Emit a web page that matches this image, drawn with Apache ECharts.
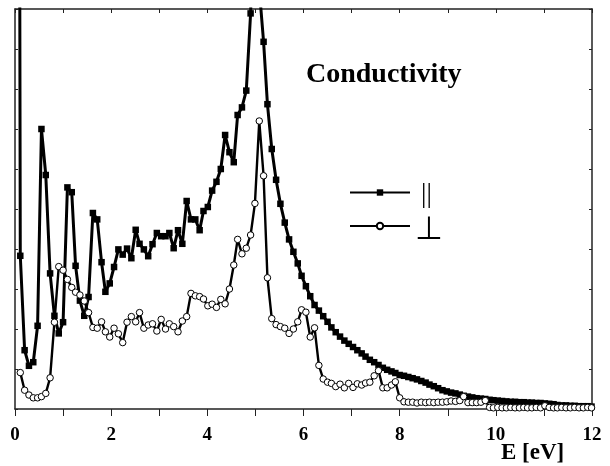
<!DOCTYPE html>
<html>
<head>
<meta charset="utf-8">
<script src="https://cdn.jsdelivr.net/npm/echarts@6/dist/echarts.min.js"></script>
<style>html,body{margin:0;padding:0;background:#fff;}#c{width:610px;height:466px;}</style>
</head>
<body>
<div id="c"></div>
<script>
const energy = [0.02,
0.11,0.20,0.29,0.38,0.47,0.55,0.64,0.73,0.82,0.91,
1.00,1.09,1.18,1.26,1.35,1.44,1.53,1.62,1.71,1.80,
1.88,1.97,2.06,2.15,2.24,2.33,2.42,2.51,2.59,2.68,
2.77,2.86,2.95,3.04,3.13,3.21,3.30,3.39,3.48,3.57,
3.66,3.75,3.84,3.92,4.01,4.10,4.19,4.28,4.37,4.46,
4.55,4.63,4.72,4.81,4.90,4.99,5.08,5.17,5.25,5.34,
5.43,5.52,5.61,5.70,5.79,5.88,5.96,6.05,6.14,6.23,
6.32,6.41,6.50,6.58,6.67,6.76,6.85,6.94,7.03,7.12,
7.21,7.29,7.38,7.47,7.56,7.65,7.74,7.83,7.91,8.00,
8.09,8.18,8.27,8.36,8.45,8.54,8.62,8.71,8.80,8.89,
8.98,9.07,9.16,9.25,9.33,9.42,9.51,9.60,9.69,9.78,
9.87,9.95,10.04,10.13,10.22,10.31,10.40,10.49,10.58,10.66,
10.75,10.84,10.93,11.02,11.11,11.20,11.28,11.37,11.46,11.55,
11.64,11.73,11.82,11.91,11.99];

const parallel = [60,
3.83,1.47,1.08,1.17,2.08,7.0,5.85,3.39,2.33,1.89,
2.17,5.54,5.42,3.58,2.71,2.33,2.80,4.90,4.74,3.67,
2.93,3.14,3.55,3.99,3.86,4.01,3.77,4.48,4.13,3.99,
3.82,4.12,4.40,4.32,4.32,4.40,4.02,4.47,4.13,5.20,
4.74,4.74,4.47,4.95,5.05,5.46,5.68,6.00,6.85,6.42,
6.17,7.35,7.54,7.96,9.89,14.0,10.5,9.18,7.62,6.50,
5.73,5.13,4.66,4.24,3.93,3.64,3.33,3.07,2.82,2.60,
2.46,2.32,2.18,2.04,1.92,1.81,1.71,1.63,1.55,1.47,
1.39,1.31,1.23,1.17,1.10,1.03,0.98,0.94,0.90,0.85,
0.83,0.80,0.77,0.74,0.70,0.66,0.61,0.57,0.52,0.47,
0.44,0.41,0.39,0.36,0.33,0.31,0.29,0.27,0.26,0.25,
0.23,0.22,0.21,0.20,0.19,0.18,0.18,0.17,0.17,0.16,
0.16,0.15,0.15,0.14,0.13,0.12,0.10,0.09,0.09,0.08,
0.08,0.07,0.07,0.07,0.06];

const perpendicular = [null,
0.91,0.47,0.35,0.28,0.28,0.31,0.39,0.78,2.17,3.56,
3.47,3.24,3.04,2.92,2.85,2.70,2.41,2.04,2.02,2.18,
1.93,1.80,2.02,1.88,1.66,2.17,2.31,2.18,2.41,2.02,
2.10,2.13,1.95,2.24,2.00,2.13,2.06,1.93,2.20,2.31,
2.89,2.83,2.81,2.75,2.58,2.62,2.54,2.74,2.63,3.00,
3.60,4.24,3.88,4.02,4.35,5.14,7.20,5.83,3.28,2.26,
2.11,2.06,2.02,1.89,2.00,2.18,2.48,2.42,1.80,2.03,
1.09,0.75,0.67,0.64,0.56,0.62,0.53,0.64,0.54,0.63,
0.60,0.65,0.67,0.83,0.96,0.53,0.53,0.60,0.68,0.28,
0.18,0.17,0.17,0.15,0.17,0.16,0.17,0.16,0.17,0.17,
0.18,0.20,0.19,0.21,0.31,0.16,0.16,0.16,0.17,0.21,
0.04,0.03,0.04,0.03,0.03,0.04,0.03,0.03,0.04,0.03,
0.03,0.04,0.03,0.08,0.04,0.03,0.03,0.04,0.03,0.03,
0.04,0.03,0.03,0.04,0.03];

const xTickLabels = ['0','2','4','6','8','10','12'];
const seriesNames = ['||', '⊥'];
const titleText = 'Conductivity';
const axisTitle = 'E [eV]';

const chart = echarts.init(document.getElementById('c'), null, {renderer: 'canvas'});
const serif = "'Liberation Serif', 'Times New Roman', serif";
const axisCol = '#222';

function pairs(ys) {
  return energy.map((e, i) => [e, ys[i] === null ? '-' : ys[i]]);
}

const baseX = {
  type: 'value', min: 0, max: 12, interval: 1,
  splitLine: {show: false},
  axisLine: {show: true, onZero: false, lineStyle: {color: axisCol, width: 1.5}}
};
const baseY = {
  type: 'value', min: 0, max: 10, interval: 1,
  splitLine: {show: false},
  axisLabel: {show: false},
  axisLine: {show: true, onZero: false, lineStyle: {color: axisCol, width: 1.5}},
  axisTick: {show: true, inside: true, length: 3, lineStyle: {color: axisCol, width: 1}}
};

chart.setOption({
  animation: false,
  backgroundColor: '#fff',
  title: {
    text: titleText, left: 301, top: 56,
    textStyle: {fontFamily: serif, fontWeight: 'bold', fontSize: 28, color: '#000'}
  },
  legend: {
    orient: 'vertical', left: 349, top: 181, padding: 0,
    itemWidth: 60, itemHeight: 8, itemGap: 7,
    data: seriesNames,
    formatter: n => n === '||' ? '{par|' + n + '}' : '{perp|' + n + '}',
    textStyle: {
      color: '#000',
      rich: {
        par: {fontFamily: serif, fontSize: 27, color: '#000', padding: [4, 0, 0, 6]},
        perp: {fontFamily: "'DejaVu Sans', sans-serif", fontSize: 32, color: '#000', padding: [10, 0, 0, 0]}
      }
    }
  },
  grid: {left: 15, right: 18, top: 9, bottom: 57, containLabel: false},
  xAxis: [
    Object.assign({}, baseX, {
      position: 'bottom',
      axisTick: {show: true, inside: false, length: 7, lineStyle: {color: axisCol, width: 1}},
      axisLabel: {
        show: true, margin: 17,
        fontFamily: serif, fontWeight: 'bold', fontSize: 19, color: '#000',
        formatter: v => xTickLabels.indexOf(String(v)) >= 0 ? String(v) : ''
      }
    }),
    Object.assign({}, baseX, {
      position: 'top',
      axisTick: {show: true, inside: true, length: 4, lineStyle: {color: axisCol, width: 1}},
      axisLabel: {show: false}
    })
  ],
  yAxis: [
    Object.assign({}, baseY, {position: 'left'}),
    Object.assign({}, baseY, {position: 'right'})
  ],
  graphic: [{
    type: 'text', left: 501, top: 442,
    style: {text: axisTitle, fontFamily: serif, fontWeight: 'bold', fontSize: 23, fill: '#000'}
  }],
  series: [
    {
      name: seriesNames[0], type: 'line', xAxisIndex: 0, yAxisIndex: 0,
      data: pairs(parallel), clip: true,
      symbol: 'rect', symbolSize: 6.5, showSymbol: true,
      lineStyle: {color: '#000', width: 3},
      itemStyle: {color: '#000', borderColor: '#000', borderWidth: 0},
      z: 2
    },
    {
      name: seriesNames[1], type: 'line', xAxisIndex: 0, yAxisIndex: 0,
      data: pairs(perpendicular), clip: true, connectNulls: false,
      symbol: 'circle', symbolSize: 6.5, showSymbol: true,
      lineStyle: {color: '#000', width: 2.4},
      itemStyle: {color: '#fff', borderColor: '#000', borderWidth: 1},
      z: 3
    }
  ]
});
</script>
</body>
</html>
